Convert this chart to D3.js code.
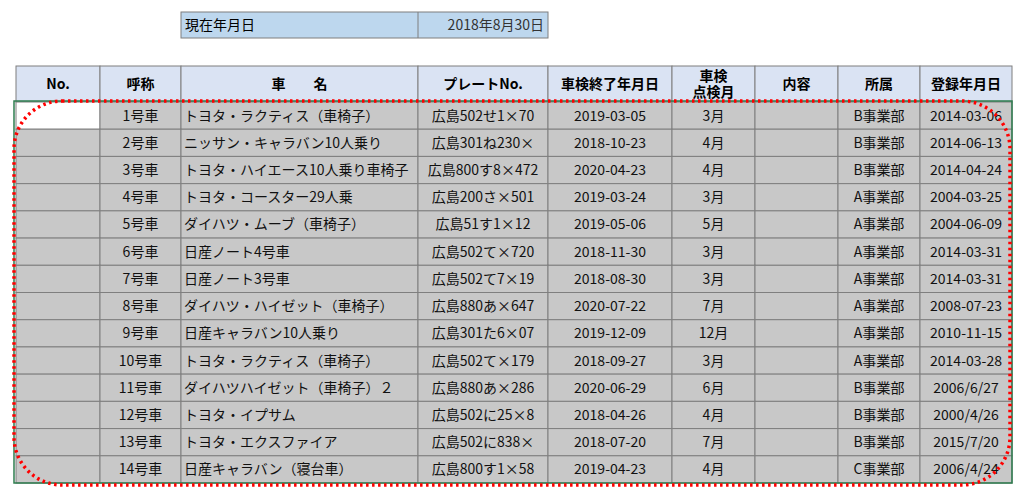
<!DOCTYPE html>
<html><head><meta charset="utf-8">
<script src="https://cdn.jsdelivr.net/npm/d3@7"></script>
<style>body{margin:0;background:#fff}svg{display:block;font-family:"Noto Sans CJK JP",sans-serif}</style>
</head><body><svg id="chart" width="1024" height="495"></svg>
<script>
var headers = ['No.', '呼称', '車　　名', 'プレートNo.', '車検終了年月日', '車検\n点検月', '内容', '所属', '登録年月日'];
var names = ['1号車','2号車','3号車','4号車','5号車','6号車','7号車','8号車','9号車','10号車','11号車','12号車','13号車','14号車'];
var cars = ['トヨタ・ラクティス（車椅子）','ニッサン・キャラバン10人乗り','トヨタ・ハイエース10人乗り車椅子','トヨタ・コースター29人乗','ダイハツ・ムーブ（車椅子）','日産ノート4号車','日産ノート3号車','ダイハツ・ハイゼット（車椅子）','日産キャラバン10人乗り','トヨタ・ラクティス（車椅子）','ダイハツハイゼット（車椅子）２','トヨタ・イプサム','トヨタ・エクスファイア','日産キャラバン（寝台車）'];
var plates = ['広島502せ1×70','広島301ね230×','広島800す8×472','広島200さ×501','広島51す1×12','広島502て×720','広島502て7×19','広島880あ×647','広島301た6×07','広島502て×179','広島880あ×286','広島502に25×8','広島502に838×','広島800す1×58'];
var inspEnd = ['2019-03-05','2018-10-23','2020-04-23','2019-03-24','2019-05-06','2018-11-30','2018-08-30','2020-07-22','2019-12-09','2018-09-27','2020-06-29','2018-04-26','2018-07-20','2019-04-23'];
var inspMonth = ['3月','4月','4月','3月','5月','3月','3月','7月','12月','3月','6月','4月','7月','4月'];
var depts = ['B事業部','B事業部','B事業部','A事業部','A事業部','A事業部','A事業部','A事業部','A事業部','A事業部','B事業部','B事業部','B事業部','C事業部'];
var regDates = ['2014-03-06','2014-06-13','2014-04-24','2004-03-25','2004-06-09','2014-03-31','2014-03-31','2008-07-23','2010-11-15','2014-03-28','2006/6/27','2000/4/26','2015/7/20','2006/4/24'];

var colEdges = [16, 100, 181, 418, 548, 672, 755, 838, 920, 1012];
var colAlign = ['middle','middle','start','middle','middle','middle','middle','middle','middle'];
var svg = d3.select('#chart');
var grid = '#7f7f7f';

// 現在年月日 box
var dateBox = svg.append('g');
dateBox.append('rect').attr('x', 181).attr('y', 12).attr('width', 367).attr('height', 26)
  .attr('fill', '#bdd7ee').attr('stroke', grid);
dateBox.append('line').attr('x1', 418).attr('x2', 418).attr('y1', 12).attr('y2', 38).attr('stroke', grid);
dateBox.append('text').attr('x', 185).attr('y', 30).attr('font-size', 14).text('現在年月日');
dateBox.append('text').attr('x', 544).attr('y', 30).attr('font-size', 14).attr('text-anchor', 'end')
  .attr('fill', '#333').text('2018年8月30日');

var y = d3.scaleBand().domain(d3.range(names.length)).range([102, 483]);

// header
var hg = svg.append('g');
headers.forEach(function (h, i) {
  var x0 = colEdges[i], x1 = colEdges[i + 1];
  hg.append('rect').attr('x', x0).attr('y', 66).attr('width', x1 - x0).attr('height', 36)
    .attr('fill', '#dae3f3').attr('stroke', grid);
  var lines = h.split('\n');
  lines.forEach(function (l, j) {
    hg.append('text').attr('x', (x0 + x1) / 2).attr('y', 89 + (j - (lines.length - 1) / 2) * 16)
      .attr('text-anchor', 'middle').attr('font-size', 14).attr('font-weight', 'bold').text(l);
  });
});

// body
var rows = names.map(function (n, i) {
  return ['', n, cars[i], plates[i], inspEnd[i], inspMonth[i], '', depts[i], regDates[i]];
});
var bg = svg.append('g');
rows.forEach(function (r, i) {
  r.forEach(function (v, c) {
    var x0 = colEdges[c], x1 = colEdges[c + 1];
    bg.append('rect').attr('x', x0).attr('y', y(i)).attr('width', x1 - x0).attr('height', y.bandwidth())
      .attr('fill', (i === 0 && c === 0) ? '#fff' : '#c8c8c8').attr('stroke', grid);
    if (v) bg.append('text')
      .attr('x', colAlign[c] === 'start' ? x0 + 3 : (x0 + x1) / 2)
      .attr('y', y(i) + y.bandwidth() / 2 + 5)
      .attr('text-anchor', colAlign[c]).attr('font-size', 14).attr('fill', '#111').text(v);
  });
});

// selection border
svg.append('rect').attr('x', 14).attr('y', 101).attr('width', 998).attr('height', 382)
  .attr('fill', 'none').attr('stroke', '#2e7d4f').attr('stroke-width', 1.5);
// red dotted rounded frame
svg.append('rect').attr('x', 14).attr('y', 101).attr('width', 996).attr('height', 384)
  .attr('rx', 48).attr('fill', 'none').attr('stroke', '#ff0000').attr('stroke-width', 3.5)
  .attr('stroke-dasharray', '2.5 3.5');
</script></body></html>
